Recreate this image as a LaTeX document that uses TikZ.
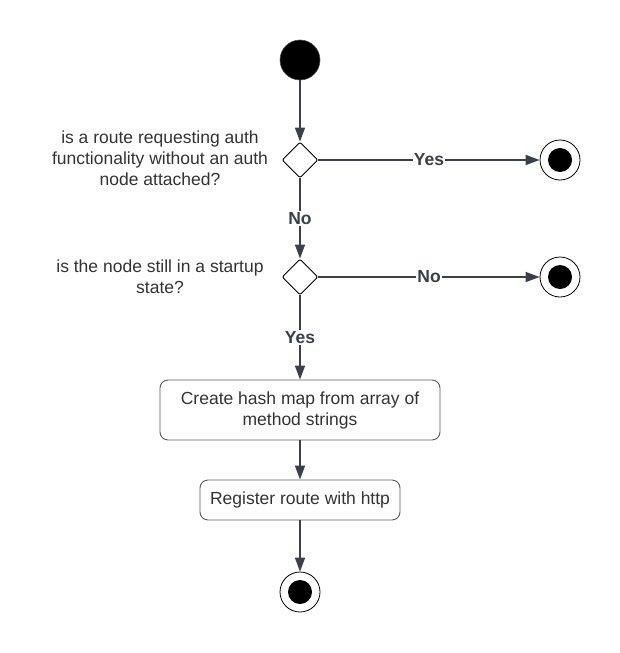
\documentclass[tikz,border=0pt]{standalone}
\usepackage{fontspec}
\setmainfont{Liberation Sans}
\usetikzlibrary{arrows.meta,shapes.geometric}
\definecolor{linec}{HTML}{3A404A}
\definecolor{textc}{HTML}{333333}
\definecolor{boxc}{HTML}{5A5A5A}
\begin{document}
\begin{tikzpicture}[x=1pt,y=-1pt,
  every node/.style={font=\fontsize{17.5}{21}\selectfont, text=textc},
  conn/.style={draw=linec, line width=1.5pt, -{Triangle[length=14pt,width=10pt]}},
  plain/.style={draw=linec, line width=1.5pt},
  lbl/.style={fill=white, inner sep=1pt, font=\fontsize{17.5}{21}\selectfont\bfseries, text=linec},
  decision/.style={diamond, draw=black, line width=0.9pt, fill=white, minimum width=36pt, minimum height=36pt, inner sep=0pt, rounded corners=2pt},
  startnode/.style={circle, fill=black, draw=black!70, line width=0.6pt, minimum size=40pt, inner sep=0pt},
  endring/.style={circle, draw=black, line width=0.8pt, fill=white, minimum size=40pt, inner sep=0pt},
  enddot/.style={circle, fill=black, minimum size=24pt, inner sep=0pt},
  actbox/.style={draw=boxc, line width=0.9pt, rounded corners=8pt, align=center, inner sep=0pt},
  question/.style={align=center, inner sep=0pt}
]
\useasboundingbox (0,0) rectangle (620,653);

\node[startnode] (start) at (300,60) {};
\node[decision] (d1) at (300,160) {};
\node[decision] (d2) at (300,277) {};
\node[endring] (e1) at (560,160) {};
\node[enddot] (e1dot) at (560,160) {};
\node[endring] (e2) at (560,277) {};
\node[enddot] (e2dot) at (560,277) {};
\node[actbox, minimum width=280pt, minimum height=60pt] (b1) at (300,410) {Create hash map from array of\\method strings};
\node[actbox, minimum width=200pt, minimum height=40pt] (b2) at (300,500) {Register route with http};
\node[endring] (e3) at (300,592) {};
\node[enddot] (e3dot) at (300,592) {};

\node[question] (q1) at (160,158) {is a route requesting auth\\functionality without an auth\\node attached?};
\node[question] (q2) at (160,277) {is the node still in a startup\\state?};

\draw[conn] (start) -- (d1);
\draw[conn] (d1) -- node[lbl] {Yes} (e1);
\draw[conn] (d1) -- node[lbl] {No} (d2);
\draw[conn] (d2) -- node[lbl] {No} (e2);
\draw[conn] (d2) -- node[lbl] {Yes} (b1);
\draw[conn] (b1) -- (b2);
\draw[conn] (b2) -- (e3);
\end{tikzpicture}
\end{document}
